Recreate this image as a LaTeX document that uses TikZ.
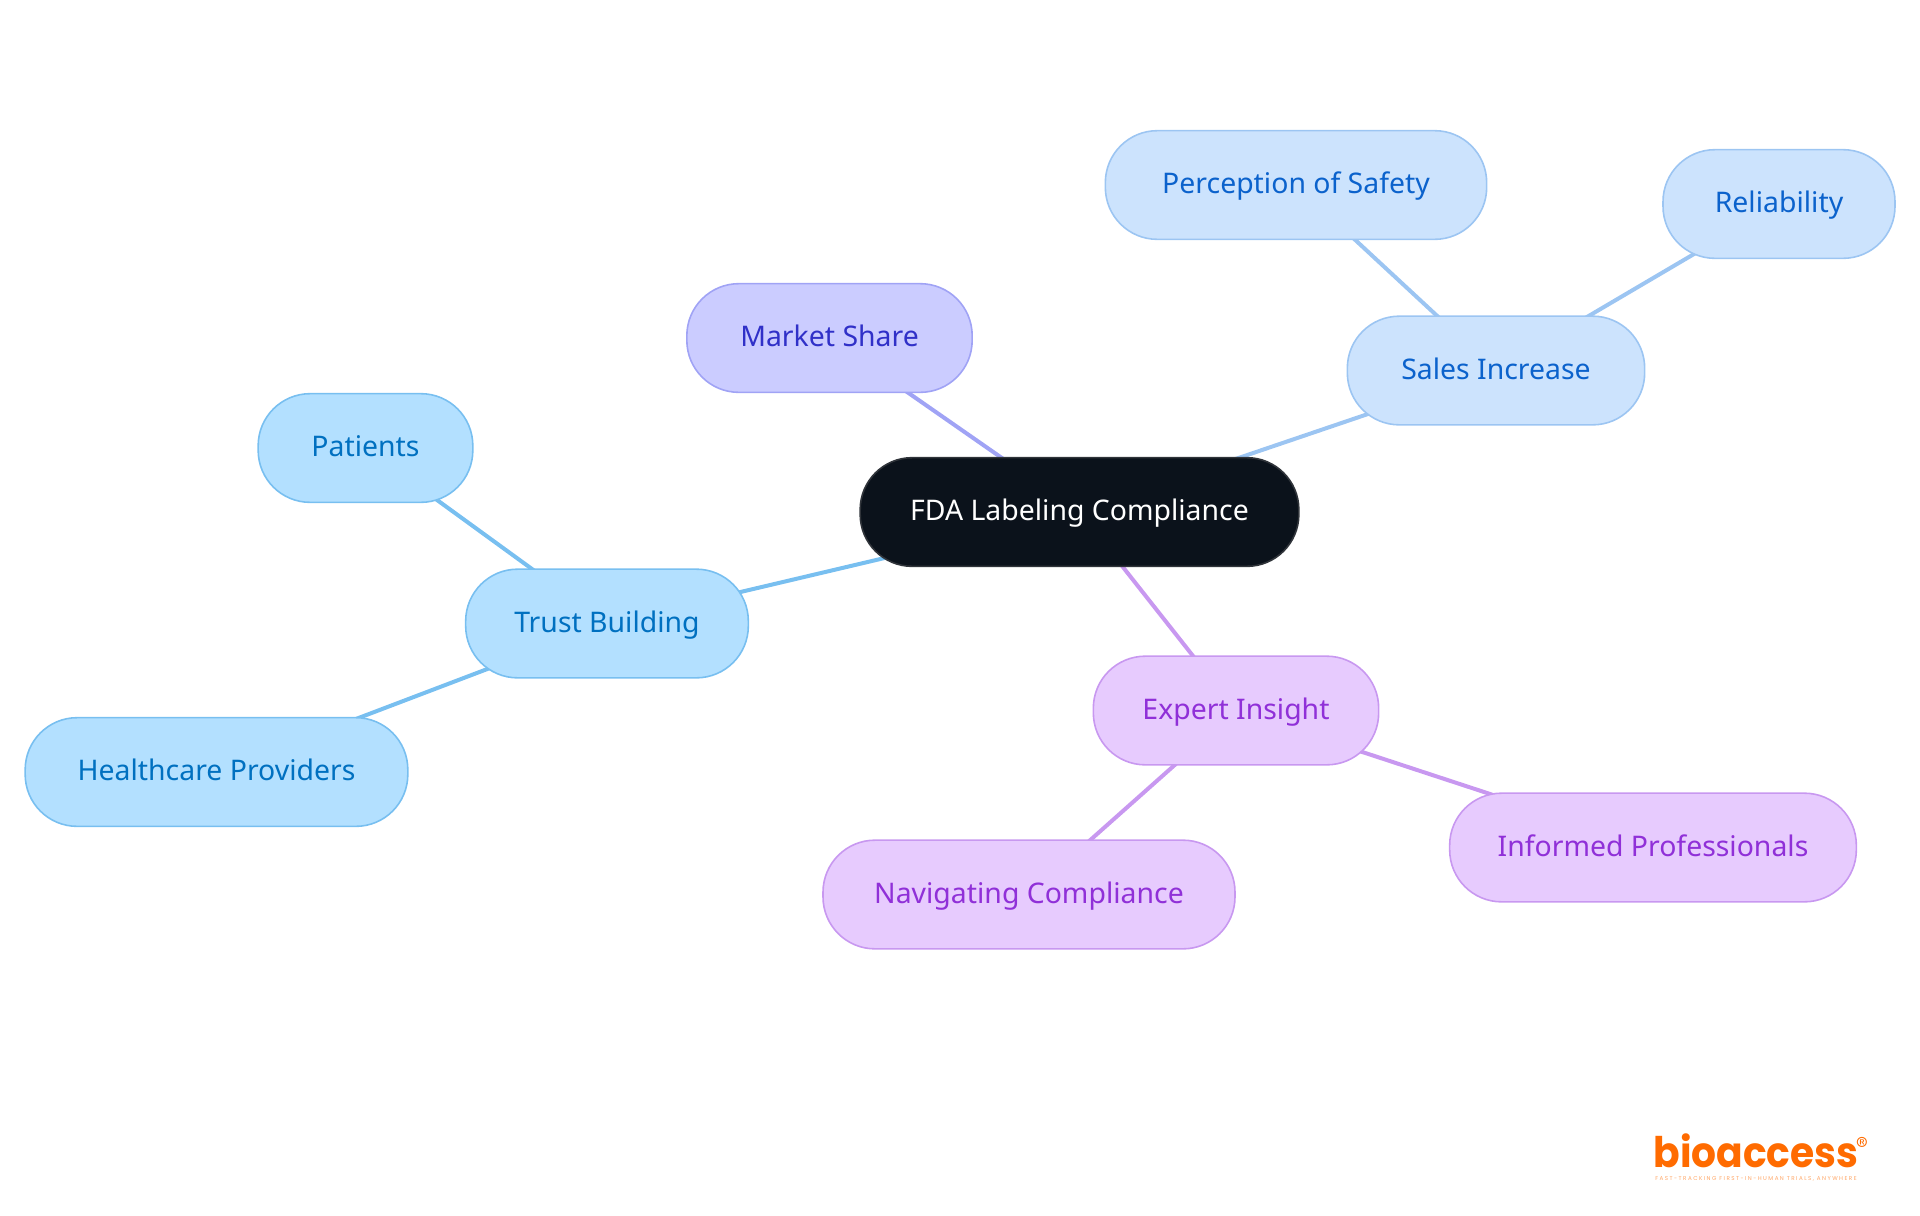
\documentclass[tikz,border=0pt]{standalone}
\usepackage{fontspec}
\setmainfont{Noto Sans}
\newfontfamily\logofont{Poppins}
\newfontfamily\tagfont[LetterSpace=26]{Poppins}
\usetikzlibrary{backgrounds}
\definecolor{rootfill}{HTML}{0B121B}
\definecolor{rootline}{HTML}{30343A}
\definecolor{skyfill}{HTML}{B3E0FF}
\definecolor{skyline}{HTML}{78BFF0}
\definecolor{skytext}{HTML}{0070C0}
\definecolor{bluefill}{HTML}{CCE3FD}
\definecolor{blueline}{HTML}{9CC5F2}
\definecolor{bluetext}{HTML}{0B62CC}
\definecolor{indigofill}{HTML}{CBCCFF}
\definecolor{indigoline}{HTML}{A0A3F5}
\definecolor{indigotext}{HTML}{3030C8}
\definecolor{violetfill}{HTML}{E7CBFE}
\definecolor{violetline}{HTML}{C898F0}
\definecolor{violettext}{HTML}{9030D8}
\definecolor{logoorange}{HTML}{FF6B00}
\tikzset{
  topic/.style={draw, line width=1.2pt, rounded corners=39pt, minimum height=81.5pt, inner sep=0pt, text height=16pt, text depth=3.2pt, font=\fontsize{21.3}{25}\selectfont},
  skytopic/.style={topic, fill=skyfill, draw=skyline, text=skytext},
  bluetopic/.style={topic, fill=bluefill, draw=blueline, text=bluetext},
  indigotopic/.style={topic, fill=indigofill, draw=indigoline, text=indigotext},
  violettopic/.style={topic, fill=violetfill, draw=violetline, text=violettext},
  roottopic/.style={topic, fill=rootfill, draw=rootline, text=white},
  branch/.style={line width=3pt}
}
\begin{document}
\begin{tikzpicture}[x=0.75pt,y=-0.75pt]
\useasboundingbox (0,0) rectangle (1920,1215);
\node[roottopic, minimum width=329pt] (root) at (1079.5,512) {FDA Labeling Compliance};
\node[indigotopic, minimum width=214pt] (market) at (829.5,338) {Market Share};
\node[bluetopic, minimum width=223pt] (sales) at (1496,370.5) {Sales Increase};
\node[bluetopic, minimum width=286pt] (safety) at (1296,185) {Perception of Safety};
\node[bluetopic, minimum width=174pt] (reliability) at (1779,204) {Reliability};
\node[skytopic, minimum width=212pt] (trust) at (607,623.5) {Trust Building};
\node[skytopic, minimum width=161pt] (patients) at (365.5,448) {Patients};
\node[skytopic, minimum width=287pt] (providers) at (216.5,772) {Healthcare Providers};
\node[violettopic, minimum width=214pt] (expert) at (1236,710.5) {Expert Insight};
\node[violettopic, minimum width=305pt] (informed) at (1653,847.5) {Informed Professionals};
\node[violettopic, minimum width=309pt] (navigating) at (1029,894.5) {Navigating Compliance};
\begin{scope}[on background layer]
\foreach \a/\b/\c in {root/market/indigoline, root/sales/blueline, sales/safety/blueline, sales/reliability/blueline, root/trust/skyline, trust/patients/skyline, trust/providers/skyline, root/expert/violetline, expert/informed/violetline, expert/navigating/violetline}
\draw[branch, \c] (\a.center) -- (\b.center);
\end{scope}
\node[text=logoorange, inner sep=0pt, anchor=base, transform shape, xscale=0.93, font=\logofont\bfseries\fontsize{31.6}{34}\selectfont] (logo) at (1756,1167) {bioaccess};
\node[text=logoorange, inner sep=0pt, font=\sffamily\bfseries\fontsize{11}{12}\selectfont] (mark) at (1862,1142) {\textregistered};
\node[text=logoorange!60, inner sep=0pt, anchor=base, font=\tagfont\fontsize{4.2}{5}\selectfont] (tagline) at (1756,1180) {FAST-TRACKING FIRST-IN-HUMAN TRIALS, ANYWHERE};
\end{tikzpicture}
\end{document}
